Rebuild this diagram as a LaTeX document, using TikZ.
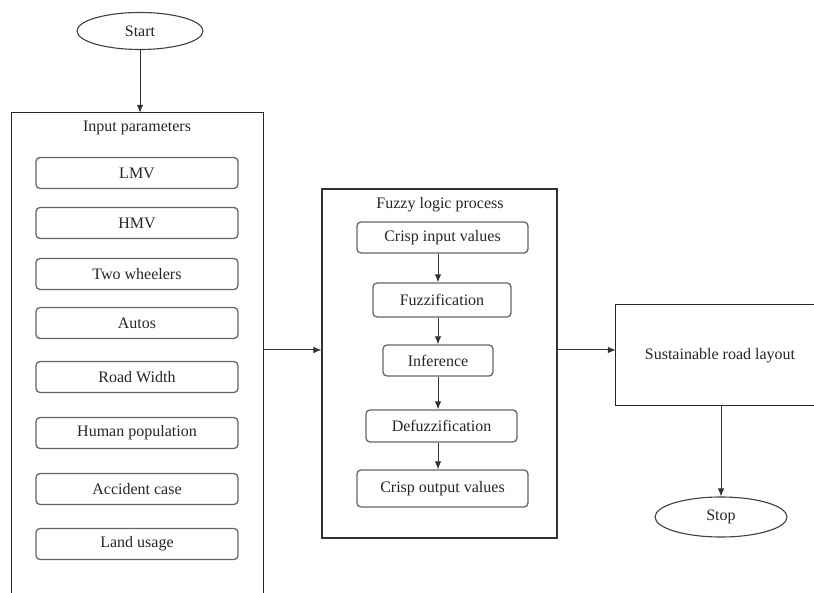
\documentclass[tikz,border=0pt]{standalone}
\usepackage{fontspec}
\setmainfont{Liberation Serif}
\usetikzlibrary{shapes.geometric,arrows.meta}
\begin{document}
\begin{tikzpicture}[x=1pt,y=-1pt,
  every node/.style={font=\rmfamily\fontsize{16}{18}\selectfont, text=black!85},
  arr/.style={draw=black!80, line width=1pt, -{Latex[length=8pt,width=6.5pt]}},
  oval/.style={ellipse, draw=black!75, line width=1.1pt, inner sep=0pt},
  frame/.style={rectangle, draw=black!80, line width=1.1pt, inner sep=0pt},
  openframe/.style={draw=black!85, line width=1.2pt},
  item/.style={rectangle, rounded corners=4pt, draw=black!60, line width=1.3pt, minimum width=202pt, minimum height=31pt, inner sep=0pt},
  fitem/.style={rectangle, rounded corners=4pt, draw=black!60, line width=1.3pt, inner sep=0pt}
]
\useasboundingbox (0,0) rectangle (814,593);
\fill[white] (0,0) rectangle (814,593);

% Start
\node[oval, minimum width=126pt, minimum height=37pt] (start) at (140,31) {Start};

% Input parameters frame (runs off the bottom edge)
\node[rectangle, inner sep=0pt, minimum width=251pt, minimum height=480pt] (inbox) at (137.5,353) {};
\draw[openframe] (inbox.south west) -- (inbox.north west) -- (inbox.north east) -- (inbox.south east);
\node (inlab) at (137,128) {Input parameters};
\node[item] (lmv) at (137,173) {LMV};
\node[item] (hmv) at (137,223) {HMV};
\node[item] (two) at (137,274) {Two wheelers};
\node[item] (autos) at (137,323) {Autos};
\node[item] (road) at (137,377) {Road Width};
\node[item] (human) at (137,433) {Human population};
\node[item] (acc) at (137,489) {Accident case};
\node[item] (land) at (137,544) {Land usage};

% Fuzzy logic process frame
\node[frame, minimum width=235pt, minimum height=349pt] (fuzzy) at (439.5,363.5) {};
\node (fuzlab) at (440,205) {Fuzzy logic process};
\node[fitem, minimum width=171pt, minimum height=31pt] (ci) at (442.5,237.5) {Crisp input values};
\node[fitem, minimum width=138pt, minimum height=34pt] (fz) at (442,300) {Fuzzification};
\node[fitem, minimum width=110pt, minimum height=31pt] (inf) at (438,360.5) {Inference};
\node[fitem, minimum width=151pt, minimum height=32pt] (dfz) at (441.5,426) {Defuzzification};
\node[fitem, minimum width=171pt, minimum height=37pt] (co) at (442.5,488.5) {Crisp output values};

% Sustainable road layout (runs off the right edge)
\node[rectangle, inner sep=0pt, minimum width=198pt, minimum height=100pt] (sust) at (715,355) {};
\draw[openframe] (sust.north east) -- (sust.north west) -- (sust.south west) -- (sust.south east);
\node (sustlab) at (720,356) {Sustainable road layout};

% Stop
\node[oval, minimum width=132pt, minimum height=40pt] (stop) at (721,517) {Stop};

% helper coordinates
\coordinate (col) at (438,0);
\coordinate (rowA) at (0,350);

% connectors
\draw[arr] (start.south) -- (start.south |- inbox.north);
\draw[arr] (ci.south -| col) -- (fz.north -| col);
\draw[arr] (fz.south -| col) -- (inf.north -| col);
\draw[arr] (inf.south -| col) -- (dfz.north -| col);
\draw[arr] (dfz.south -| col) -- (co.north -| col);
\draw[arr] (inbox.east |- rowA) -- (fuzzy.west |- rowA);
\draw[arr] (fuzzy.east |- rowA) -- (sust.west |- rowA);
\draw[arr] (stop.north |- sust.south) -- (stop.north);
\end{tikzpicture}
\end{document}
